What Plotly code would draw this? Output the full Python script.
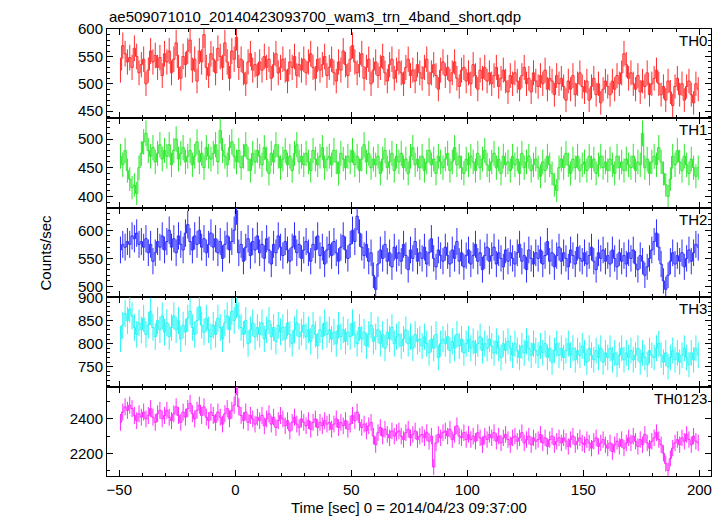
import numpy as np
import plotly.graph_objects as go
from plotly.subplots import make_subplots

title_text = "ae509071010_20140423093700_wam3_trn_4band_short.qdp"
x_title = "Time [sec] 0 = 2014/04/23 09:37:00"
y_title = "Counts/sec"
band_names = ["TH0", "TH1", "TH2", "TH3", "TH0123"]

# 1-s time bins, centres from -49.5 to 199.5
time_start = -49.5
n_bins = 250

th0 = [
    525, 570, 555, 540, 548, 530, 565, 550, 520, 535,
    545, 500, 525, 560, 540, 552, 530, 548, 515, 555,
    540, 560, 520, 545, 575, 530, 510, 550, 535, 560,
    580, 525, 545, 505, 560, 540, 590, 530, 515, 555,
    545, 520, 565, 550, 530, 575, 540, 510, 560, 545,
    585, 530, 545, 520, 500, 540, 555, 525, 535, 515,
    540, 525, 550, 530, 545, 510, 535, 555, 520, 530,
    545, 525, 505, 540, 530, 550, 515, 535, 525, 545,
    520, 540, 555, 530, 510, 545, 525, 535, 550, 515,
    530, 545, 520, 505, 540, 525, 560, 535, 515, 545,
    570, 540, 520, 535, 555, 510, 530, 545, 500, 525,
    540, 515, 530, 550, 520, 505, 535, 545, 510, 525,
    540, 520, 500, 530, 545, 515, 525, 505, 535, 520,
    510, 530, 545, 500, 520, 535, 515, 490, 525, 540,
    515, 530, 505, 520, 540, 510, 495, 525, 530, 505,
    520, 500, 535, 515, 490, 525, 510, 530, 505, 520,
    500, 515, 530, 495, 510, 525, 505, 485, 515, 500,
    520, 505, 490, 515, 530, 500, 510, 485, 520, 505,
    495, 515, 500, 525, 490, 510, 505, 480, 515, 500,
    510, 495, 470, 505, 490, 515, 480, 500, 520, 495,
    485, 505, 470, 495, 510, 480, 500, 465, 490, 505,
    495, 480, 505, 490, 515, 500, 520, 555, 535, 510,
    520, 500, 490, 515, 485, 505, 495, 520, 480, 500,
    510, 525, 500, 480, 495, 470, 505, 485, 460, 495,
    510, 480, 500, 470, 495, 505, 480, 465, 500, 490,
]

th1 = [
    470, 455, 480, 445, 430, 415, 420, 405, 450, 475,
    495, 510, 480, 470, 485, 460, 475, 490, 465, 480,
    470, 490, 455, 480, 500, 465, 475, 485, 460, 470,
    480, 455, 470, 495, 460, 475, 450, 485, 470, 465,
    475, 490, 460, 515, 480, 470, 455, 485, 495, 470,
    460, 480, 450, 470, 490, 465, 445, 475, 460, 480,
    470, 455, 485, 465, 440, 475, 460, 490, 470, 450,
    465, 480, 455, 470, 445, 475, 490, 460, 470, 455,
    475, 460, 445, 480, 465, 455, 470, 485, 450, 465,
    470, 455, 480, 460, 440, 475, 465, 450, 470, 460,
    480, 455, 470, 445, 465, 490, 460, 475, 450, 465,
    455, 470, 440, 465, 480, 450, 460, 475, 445, 470,
    460, 475, 450, 465, 440, 470, 485, 455, 465, 450,
    470, 445, 460, 480, 455, 465, 440, 470, 460, 450,
    465, 475, 445, 460, 485, 455, 470, 450, 440, 465,
    455, 470, 460, 445, 475, 450, 465, 480, 455, 445,
    460, 475, 450, 465, 440, 470, 455, 460, 445, 470,
    455, 465, 440, 475, 450, 460, 470, 445, 455, 465,
    450, 435, 460, 445, 470, 455, 440, 420, 410, 450,
    465, 450, 475, 455, 440, 465, 450, 470, 445, 455,
    460, 445, 470, 450, 465, 440, 455, 470, 450, 460,
    445, 465, 455, 440, 470, 450, 460, 445, 465, 455,
    450, 470, 445, 460, 455, 510, 450, 465, 440, 460,
    470, 455, 485, 460, 440, 420, 400, 430, 470, 455,
    480, 460, 445, 470, 455, 440, 465, 450, 435, 450,
]

th2 = [
    565, 575, 570, 580, 575, 590, 585, 595, 575, 580,
    570, 585, 560, 575, 545, 560, 580, 570, 590, 565,
    580, 600, 570, 585, 560, 590, 575, 565, 595, 610,
    580, 565, 590, 575, 600, 570, 585, 560, 575, 595,
    570, 585, 560, 580, 550, 575, 590, 565, 580, 600,
    635, 560, 575, 545, 570, 585, 555, 580, 565, 590,
    560, 575, 550, 585, 565, 540, 575, 560, 590, 570,
    555, 580, 565, 545, 570, 590, 560, 575, 550, 565,
    580, 560, 545, 575, 565, 590, 555, 570, 540, 565,
    575, 555, 580, 560, 545, 570, 590, 565, 550, 575,
    600, 580, 625, 595, 570, 555, 575, 545, 560, 520,
    495, 540, 565, 550, 575, 545, 560, 535, 570, 550,
    560, 545, 575, 555, 530, 565, 550, 580, 545, 560,
    550, 570, 540, 560, 585, 550, 535, 565, 555, 545,
    570, 555, 540, 565, 550, 580, 545, 560, 535, 555,
    565, 540, 555, 575, 545, 560, 530, 555, 570, 545,
    555, 570, 540, 560, 550, 535, 565, 545, 560, 550,
    540, 560, 575, 545, 555, 530, 565, 550, 540, 560,
    550, 565, 540, 555, 580, 545, 560, 535, 555, 570,
    545, 560, 550, 535, 565, 555, 540, 570, 550, 545,
    560, 540, 555, 570, 545, 530, 560, 550, 565, 545,
    555, 540, 565, 550, 535, 560, 545, 555, 540, 560,
    550, 565, 540, 530, 555, 545, 520, 535, 550, 565,
    580, 595, 570, 540, 510, 495, 520, 545, 560, 540,
    555, 545, 560, 535, 550, 565, 545, 560, 575, 570,
]

th3 = [
    810, 840, 865, 850, 875, 860, 835, 820, 845, 830,
    855, 820, 840, 870, 835, 815, 850, 830, 860, 825,
    845, 815, 835, 860, 830, 850, 810, 840, 825, 855,
    870, 835, 820, 850, 880, 840, 825, 855, 830, 815,
    840, 820, 855, 835, 810, 845, 860, 830, 870, 850,
    885, 860, 835, 820, 850, 800, 830, 845, 815, 835,
    820, 845, 810, 830, 850, 815, 835, 805, 840, 825,
    835, 810, 845, 820, 800, 830, 845, 815, 825, 840,
    815, 830, 805, 840, 820, 795, 830, 815, 845, 820,
    830, 810, 825, 800, 840, 815, 830, 805, 825, 815,
    845, 820, 800, 835, 810, 825, 795, 820, 840, 805,
    815, 830, 800, 820, 790, 825, 810, 835, 800, 815,
    820, 795, 810, 830, 800, 815, 790, 820, 805, 810,
    795, 815, 800, 780, 810, 790, 820, 770, 800, 810,
    800, 815, 785, 805, 790, 820, 795, 810, 780, 800,
    810, 790, 805, 780, 800, 815, 785, 800, 790, 810,
    795, 780, 805, 790, 770, 800, 785, 805, 790, 775,
    800, 785, 770, 795, 780, 805, 790, 775, 800, 785,
    775, 795, 780, 800, 770, 790, 760, 785, 800, 775,
    790, 770, 785, 800, 775, 790, 765, 785, 775, 795,
    780, 760, 790, 775, 765, 785, 770, 790, 760, 780,
    770, 790, 765, 780, 755, 775, 790, 765, 780, 770,
    785, 765, 775, 790, 760, 780, 770, 755, 785, 775,
    770, 790, 800, 775, 760, 780, 750, 770, 785, 765,
    780, 760, 775, 790, 770, 755, 780, 765, 790, 775,
]

th0123 = [
    2380, 2440, 2470, 2450, 2480, 2460, 2420, 2390, 2430, 2410,
    2440, 2400, 2420, 2460, 2410, 2380, 2430, 2450, 2400, 2420,
    2450, 2410, 2390, 2430, 2470, 2420, 2380, 2440, 2410, 2460,
    2490, 2430, 2400, 2450, 2480, 2420, 2470, 2410, 2390, 2440,
    2420, 2380, 2440, 2410, 2370, 2430, 2460, 2400, 2450, 2480,
    2590, 2470, 2420, 2390, 2440, 2380, 2420, 2400, 2370, 2410,
    2390, 2420, 2360, 2400, 2430, 2370, 2410, 2350, 2390, 2420,
    2400, 2360, 2390, 2330, 2380, 2410, 2370, 2350, 2400, 2380,
    2360, 2390, 2340, 2380, 2400, 2350, 2380, 2360, 2390, 2370,
    2380, 2340, 2370, 2400, 2350, 2380, 2360, 2390, 2340, 2370,
    2420, 2390, 2440, 2380, 2350, 2370, 2330, 2360, 2380, 2300,
    2250, 2320, 2350, 2300, 2340, 2310, 2290, 2330, 2300, 2320,
    2330, 2300, 2280, 2320, 2340, 2290, 2310, 2330, 2280, 2300,
    2310, 2290, 2320, 2270, 2300, 2120, 2260, 2310, 2290, 2320,
    2330, 2300, 2340, 2280, 2310, 2360, 2300, 2290, 2320, 2280,
    2310, 2280, 2300, 2270, 2320, 2290, 2250, 2300, 2280, 2310,
    2290, 2320, 2270, 2300, 2260, 2290, 2310, 2280, 2250, 2290,
    2300, 2270, 2290, 2320, 2260, 2280, 2300, 2250, 2290, 2270,
    2280, 2310, 2260, 2290, 2240, 2280, 2300, 2250, 2270, 2290,
    2260, 2290, 2270, 2240, 2280, 2300, 2250, 2270, 2290, 2260,
    2250, 2280, 2260, 2230, 2270, 2290, 2240, 2260, 2280, 2250,
    2230, 2260, 2210, 2250, 2270, 2240, 2280, 2230, 2260, 2290,
    2260, 2300, 2270, 2240, 2280, 2250, 2310, 2260, 2230, 2270,
    2290, 2320, 2280, 2250, 2200, 2140, 2100, 2170, 2230, 2260,
    2280, 2250, 2290, 2270, 2310, 2280, 2250, 2300, 2270, 2260,
]

series = [th0, th1, th2, th3, th0123]
colors = ["#ff2a2a", "#2ae82a", "#2a2aff", "#2af5f5", "#ff2aff"]
y_ranges = [[436.5, 600.4], [380, 536], [481, 640], [707, 900.6], [2068, 2588]]
y_dticks = [50, 50, 50, 50, 200]
y_minor = [10, 10, 10, 10, 100]
x_range = [-55.3, 205.0]

time = time_start + np.arange(n_bins)

# the page body has an 8px margin: size the figure to fill the rest of the window
W, H = 717, 508
L, R, T, B = 99, 14, 19, 40

fig = make_subplots(rows=5, cols=1, shared_xaxes=True, vertical_spacing=0)

FONT = "Liberation Sans, Arial, Helvetica, sans-serif"

for i, (vals, col) in enumerate(zip(series, colors)):
    v = np.array(vals, dtype=float)
    err = np.sqrt(v)
    fig.add_trace(
        go.Scatter(
            x=time, y=v, mode="lines", line=dict(color=col, width=1, shape="hvh"),
            error_y=dict(type="data", array=err, visible=True, color=col, thickness=1, width=0),
            showlegend=False, hoverinfo="skip",
        ),
        row=i + 1, col=1,
    )
    fig.update_yaxes(
        range=y_ranges[i], dtick=y_dticks[i], tick0=0,
        ticks="inside", ticklen=6, tickwidth=1, tickcolor="black",
        minor=dict(dtick=y_minor[i], ticks="inside", ticklen=3, tickcolor="black", tickwidth=1, showgrid=False),
        showline=True, linecolor="black", linewidth=1, mirror="allticks",
        showgrid=False, zeroline=False,
        tickfont=dict(family=FONT, size=15, color="black"),
        row=i + 1, col=1,
    )
    fig.update_xaxes(
        range=x_range, dtick=50, tick0=0,
        ticks="inside", ticklen=6, tickwidth=1, tickcolor="black",
        minor=dict(dtick=10, ticks="inside", ticklen=3, tickcolor="black", tickwidth=1, showgrid=False),
        showline=True, linecolor="black", linewidth=1, mirror="allticks",
        showgrid=False, zeroline=False,
        showticklabels=(i == 4),
        tickfont=dict(family=FONT, size=15, color="black"),
        row=i + 1, col=1,
    )

plot_h = H - T - B
panel_h = plot_h / 5
annotations = []
for i, name in enumerate(band_names):
    top_px = T + i * panel_h
    annotations.append(dict(
        text=name, xref="paper", yref="paper", x=1.0, xanchor="right",
        y=1 - (top_px + 1 - T) / plot_h, yanchor="top", showarrow=False,
        font=dict(family=FONT, size=15, color="black"), xshift=-2,
    ))

annotations.append(dict(
    text=title_text, xref="paper", yref="paper", x=0, xanchor="left",
    y=1, yanchor="bottom", yshift=2, showarrow=False,
    font=dict(family=FONT, size=15, color="black"),
))
annotations.append(dict(
    text=x_title, xref="paper", yref="paper", x=0.5, xanchor="center",
    y=0, yanchor="top", yshift=-21, showarrow=False,
    font=dict(family=FONT, size=15, color="black"),
))
annotations.append(dict(
    text=y_title, xref="paper", yref="paper", x=0, xanchor="center",
    xshift=-62, y=0.5, yanchor="middle", textangle=-90, showarrow=False,
    font=dict(family=FONT, size=15, color="black"),
))

fig.update_layout(
    width=W, height=H,
    margin=dict(l=L, r=R, t=T, b=B),
    paper_bgcolor="white", plot_bgcolor="white",
    annotations=annotations,
    showlegend=False,
)

fig.write_html("out.html")
